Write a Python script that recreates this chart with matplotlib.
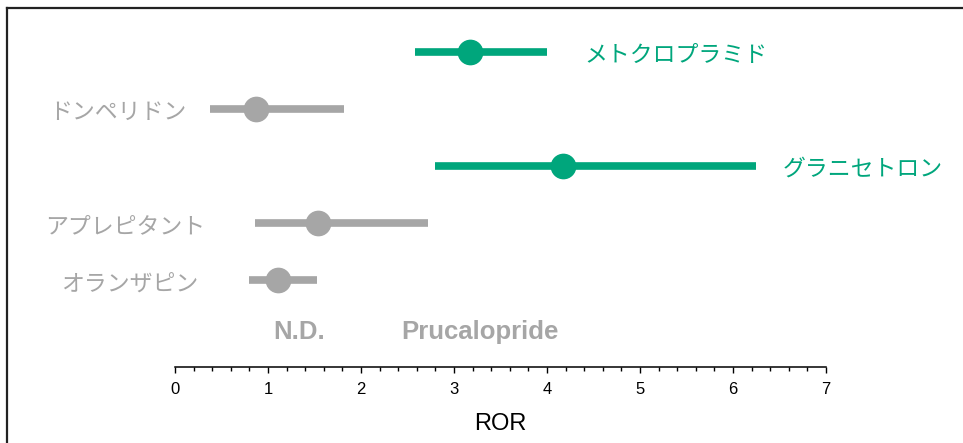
import numpy as np
import matplotlib
matplotlib.use("Agg")
import matplotlib.pyplot as plt
from matplotlib.lines import Line2D
from matplotlib.ticker import MultipleLocator

plt.rcParams['font.family'] = ['Liberation Sans', 'Noto Sans CJK JP', 'DejaVu Sans']

# data (ROR with 95% CI)
drugs = ['メトクロプラミド', 'ドンペリドン', 'グラニセトロン', 'アプレピタント', 'オランザピン']
ror = [3.17, 0.87, 4.17, 1.54, 1.11]
ci_low = [2.58, 0.38, 2.80, 0.86, 0.80]
ci_high = [4.00, 1.82, 6.25, 2.72, 1.53]
signal = [True, False, True, False, False]
nd_labels = ['N.D.', 'Prucalopride']
nd_x = [1.33, 3.28]

green = '#00A67C'
grey = '#A6A6A6'
jp_font = ['Noto Sans CJK JP', 'DejaVu Sans']

fig = plt.figure(figsize=(9.63, 4.43), dpi=100)
ax = fig.add_axes([175/963, 1 - 367/443, (826-175)/963, (367-20)/443])

rows = np.arange(len(drugs))
# label offsets in points from the CI end
label_off = [27, -17, 19, -36, -37]

for i in rows:
    c = green if signal[i] else grey
    ax.plot([ci_low[i], ci_high[i]], [i, i], color=c, lw=5.5,
            solid_capstyle='butt', zorder=2)
    ax.plot(ror[i], i, 'o', color=c, ms=17.5, zorder=3)
    if signal[i]:
        ax.annotate(drugs[i], (ci_high[i], i), xytext=(label_off[i], -2.5),
                    textcoords='offset points', ha='left', va='center',
                    color=c, fontsize=16.5, family=jp_font)
    else:
        ax.annotate(drugs[i], (ci_low[i], i), xytext=(label_off[i], -2.5),
                    textcoords='offset points', ha='right', va='center',
                    color=c, fontsize=16.5, family=jp_font)

nd_row = len(drugs) - 0.1
for lab, x in zip(nd_labels, nd_x):
    ax.text(x, nd_row, lab, ha='center', va='center', color=grey,
            fontsize=18.5, fontweight='bold')

ax.set_xlim(0, 7)
ax.set_ylim(5.52, -0.56)
ax.set_yticks([])
for s in ['left', 'right', 'top']:
    ax.spines[s].set_visible(False)
ax.spines['bottom'].set_linewidth(1.1)
ax.xaxis.set_major_locator(MultipleLocator(1))
ax.xaxis.set_minor_locator(MultipleLocator(0.2))
ax.tick_params(axis='x', which='major', direction='out', length=4.5, width=1, pad=6,
               labelsize=12)
ax.tick_params(axis='x', which='minor', direction='out', length=3, width=1)
ax.set_xlabel('ROR', fontsize=17, labelpad=12)

# frame lines of the original slide
fig.add_artist(Line2D([7/963, 7/963], [0, 1 - 8/443], color='#222222', lw=1.6))
fig.add_artist(Line2D([7/963, 1], [1 - 8/443, 1 - 8/443], color='#222222', lw=1.6))

fig.savefig('out.png', dpi=100)
